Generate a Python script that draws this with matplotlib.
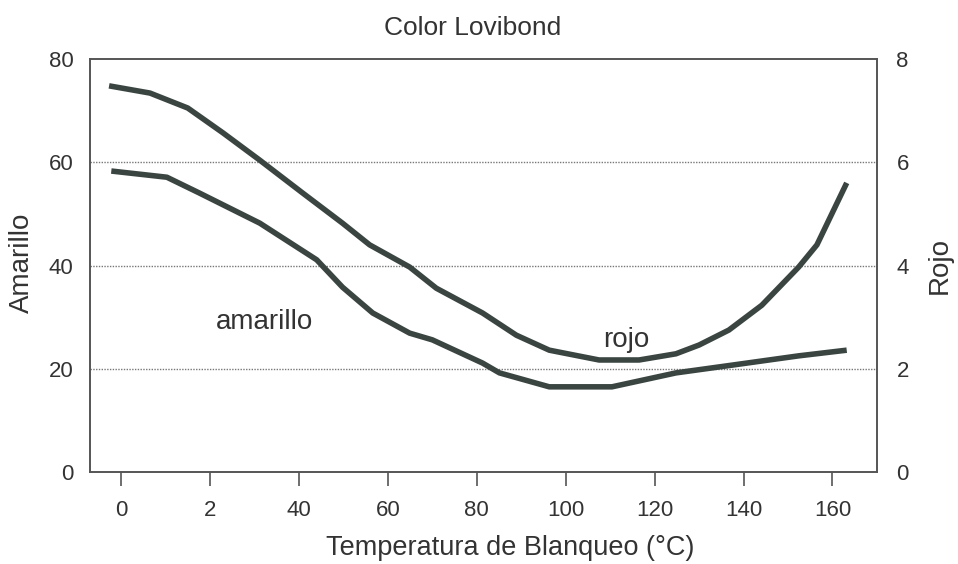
import matplotlib.pyplot as plt
import numpy as np

plt.rcParams['font.family'] = ['Liberation Sans', 'DejaVu Sans']

# Datos
temp_rojo = [-2.7, 6.5, 15.0, 22.9, 31.2, 40.9, 49.8, 55.9, 64.9, 70.9, 81.3, 88.9,
             96.3, 107.5, 116.5, 124.8, 130.0, 136.7, 144.1, 152.4, 156.5, 163.2]
rojo = [7.48, 7.34, 7.05, 6.57, 6.04, 5.40, 4.82, 4.40, 3.97, 3.56, 3.08, 2.65,
        2.36, 2.17, 2.17, 2.29, 2.46, 2.75, 3.23, 3.97, 4.40, 5.60]

temp_amarillo = [-2.2, 10.3, 17.7, 31.2, 44.0, 49.8, 56.6, 64.9, 70.0, 81.3, 85.1,
                 96.3, 110.4, 124.8, 137.4, 152.4, 163.2]
amarillo = [58.3, 57.1, 54.0, 48.2, 41.1, 35.8, 30.8, 26.9, 25.6, 21.1, 19.2,
            16.5, 16.5, 19.2, 20.7, 22.5, 23.6]

xticks = [0, 20, 40, 60, 80, 100, 120, 140, 160]
xtick_labels = ['0', '2', '40', '60', '80', '100', '120', '140', '160']
yticks_left = [0, 20, 40, 60, 80]
yticks_right = [0, 2, 4, 6, 8]

line_color = '#3a4541'
text_color = '#333333'

fig = plt.figure(figsize=(9.58, 5.64), dpi=100)
ax = fig.add_axes([0.0939, 0.1631, 0.8215, 0.7323])
ax2 = ax.twinx()

# lineas de referencia punteadas
for v in [20, 40, 60]:
    ax.axhline(v, color='#777777', lw=1.0, ls=(0, (1, 1)), zorder=1)

ax.plot(temp_amarillo, amarillo, color=line_color, lw=4.0, solid_capstyle='butt', zorder=3)
ax2.plot(temp_rojo, rojo, color=line_color, lw=4.0, solid_capstyle='butt', zorder=3)

ax.set_xlim(-7, 170)
ax.set_ylim(0, 80)
ax2.set_ylim(0, 8)

ax.set_xticks(xticks)
ax.set_xticklabels(xtick_labels)
ax.set_yticks(yticks_left)
ax2.set_yticks(yticks_right)

ax.tick_params(axis='x', length=10, width=1.2, color='#555555', pad=10,
               labelsize=16, labelcolor=text_color)
ax.tick_params(axis='y', length=0, pad=12, labelsize=16, labelcolor=text_color)
ax2.tick_params(axis='y', length=0, pad=14, labelsize=16, labelcolor=text_color)

for a in (ax, ax2):
    for s in a.spines.values():
        s.set_color('#555555')
        s.set_linewidth(1.2)

ax.text(32.3, 29.1, 'amarillo', fontsize=20, color=text_color, ha='center', va='center')
ax.text(113.6, 25.6, 'rojo', fontsize=20, color=text_color, ha='center', va='center')

fig.text(473 / 958, 1 - 28 / 564, 'Color Lovibond', fontsize=19, color=text_color,
         ha='center', va='center')
fig.text(510 / 958, 1 - 548 / 564, 'Temperatura de Blanqueo (°C)', fontsize=19.5,
         color=text_color, ha='center', va='center')
fig.text(22 / 958, 1 - 263 / 564, 'Amarillo', fontsize=20, color=text_color,
         ha='center', va='center', rotation=90)
fig.text(940 / 958, 1 - 265 / 564, 'Rojo', fontsize=20, color=text_color,
         ha='center', va='center', rotation=90)

plt.savefig('out.png', dpi=100)
